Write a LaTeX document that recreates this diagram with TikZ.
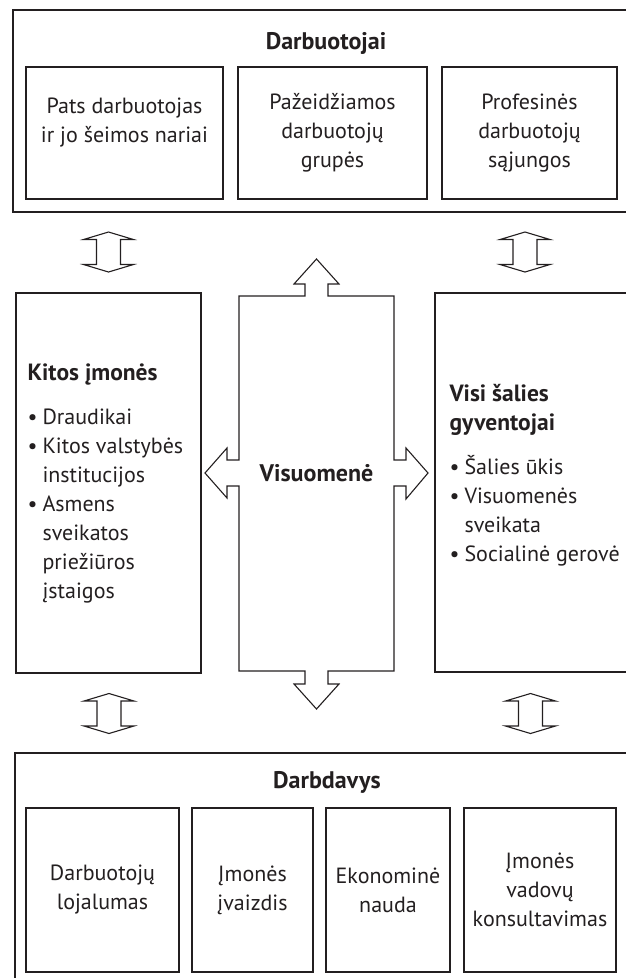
\documentclass[tikz,border=0pt]{standalone}
\usepackage{fontspec}
\setmainfont{PT Sans}
\usetikzlibrary{positioning}

\definecolor{ink}{HTML}{231F20}

\tikzset{
  frame/.style={draw=ink, line width=1.6pt, inner sep=0pt},
  box/.style={draw=ink, line width=1.3pt, inner sep=0pt, align=center},
  title/.style={font=\fontsize{24}{29}\selectfont\bfseries},
  list/.style={align=left, inner sep=0pt},
  blockarrow/.style={draw=ink, line width=1.1pt, line join=miter},
  pics/dblarrow/.style={code={
    \draw[blockarrow] (0,-20) -- (25,-12.5) -- (12,-12.5) -- (12,12.5) -- (25,12.5)
      -- (0,20) -- (-25,12.5) -- (-12,12.5) -- (-12,-12.5) -- (-25,-12.5) -- cycle;
  }}
}
\newcommand{\bul}{\makebox[15pt][l]{\textbullet}}
\newcommand{\ind}{\hspace*{15pt}}
\newcommand{\hd}[1]{{\fontsize{23.5}{30}\selectfont\bfseries #1}}

\begin{document}
\begin{tikzpicture}[x=1pt, y=-1pt, font=\fontsize{22}{29}\selectfont, text=ink]
  \useasboundingbox (0,0) rectangle (626,978);
  \clip (0,0) rectangle (626,978);

  % Darbuotojai
  \node[frame, minimum width=627pt, minimum height=202pt] (darb) at (326.5,111) {};
  \node[title] (darbt) at (326,43) {Darbuotojai};
  \node[box, minimum width=197pt, minimum height=132pt] (pats) at (124.5,133) {};
  \node[align=center] (patst) at ([yshift=10pt]pats.center) {Pats darbuotojas\\ir jo šeimos nariai};
  \node[box, minimum width=189pt, minimum height=132pt] (pazeid) at (332.5,133) {Pažeidžiamos\\darbuotojų\\grupės};
  \node[box, minimum width=175pt, minimum height=132pt] (profs) at (529.5,133) {Profesinės\\darbuotojų\\sąjungos};

  % side boxes
  \node[box, minimum width=185pt, minimum height=380pt] (kitos) at (108.5,483) {};
  \node[list, anchor=west] (kitost) at ([xshift=12pt]kitos.west)
    {\hd{Kitos įmonės}\\[15pt]\bul Draudikai\\\bul Kitos valstybės\\\ind institucijos\\\bul Asmens\\\ind sveikatos\\\ind priežiūros\\\ind įstaigos};
  \node[box, minimum width=205pt, minimum height=379pt] (visi) at (537.5,482.5) {};
  \node[list, anchor=west] (visit) at ([xshift=15pt, yshift=7pt]visi.west)
    {\hd{Visi šalies}\\\hd{gyventojai}\\[15pt]\bul Šalies ūkis\\\bul Visuomenės\\\ind sveikata\\\bul Socialinė gerovė};

  % Visuomene
  \draw[blockarrow] (239,296) -- (305,296) -- (305,284) -- (294,284) -- (316.5,259)
    -- (339,284) -- (328,284) -- (328,296) -- (394,296) -- (394,460) -- (406,460)
    -- (406,448) -- (428,473) -- (406,499) -- (406,486) -- (394,486) -- (394,671)
    -- (328,671) -- (328,684) -- (339,684) -- (316.5,709) -- (294,684) -- (305,684)
    -- (305,671) -- (239,671) -- (239,486) -- (227,486) -- (227,498) -- (205,473)
    -- (227,448) -- (227,460) -- (239,460) -- cycle;
  \node[title] (visu) at (316.5,473) {Visuomenė};

  % Darbdavys
  \node[frame, minimum width=625pt, minimum height=250pt] (dd) at (327.5,878) {};
  \node[title] (ddt) at (327,782) {Darbdavys};
  \node[box, minimum width=153pt, minimum height=164pt] (loj) at (102.5,890) {Darbuotojų\\lojalumas};
  \node[box, minimum width=121pt, minimum height=164pt] (ivz) at (252.5,890) {Įmonės\\įvaizdis};
  \node[box, minimum width=124pt, minimum height=164pt] (eko) at (388,890) {Ekonominė\\nauda};
  \node[box, minimum width=152pt, minimum height=164pt] (kons) at (540,890) {Įmonės\\vadovų\\konsultavimas};

  % double arrows
  \pic at (108.5,252) {dblarrow};
  \pic at (525,252) {dblarrow};
  \pic at (109,713.5) {dblarrow};
  \pic at (530.5,713.5) {dblarrow};
\end{tikzpicture}
\end{document}
